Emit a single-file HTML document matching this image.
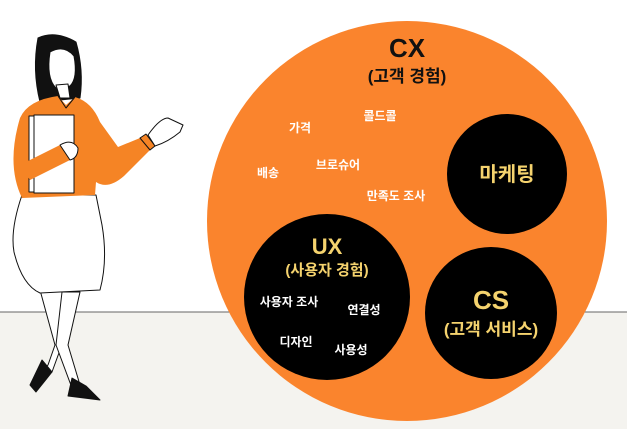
<!DOCTYPE html>
<html><head><meta charset="utf-8"><style>
html,body{margin:0;padding:0;width:627px;height:429px;overflow:hidden;background:#fff}
</style></head><body>
<svg width="627" height="429" viewBox="0 0 627 429" xmlns="http://www.w3.org/2000/svg" font-family="'Liberation Sans','Noto Sans CJK KR',sans-serif" font-weight="bold" text-anchor="middle">
<rect x="0" y="312" width="627" height="117" fill="#f4f3ef"/>
<line x1="0" y1="312" x2="627" y2="312" stroke="#666" stroke-width="1"/>
<!-- person -->
<g stroke="#111" stroke-width="1" stroke-linejoin="round">
<path d="M40,290 L55,345 L48,365 L40,372 L52,372 L60,350 L72,292 Z" fill="#fff"/>
<path d="M62,292 L80,292 L68,345 L80,385 L72,388 L56,345 Z" fill="#fff"/>
<path d="M42,360 L30,385 L36,392 L52,372 Z" fill="#111"/>
<path d="M72,378 L68,396 L100,400 L86,386 Z" fill="#111"/>
<path d="M22,195 Q10,230 14,252 Q22,285 40,293 L100,290 Q108,260 102,225 L96,195 Z" fill="#fff"/>
<path d="M38,38 Q55,30 76,42 Q84,70 80,98 L40,102 Q32,70 38,38 Z" fill="#111"/>
<path d="M50,52 Q64,44 74,56 Q78,78 70,86 L56,88 Q46,78 50,52 Z" fill="#fff"/>
<path d="M56,85 L60,98 L70,98 L68,84 Z" fill="#fff"/>
<path d="M20,118 Q28,100 58,96 L66,105 L75,97 Q92,102 100,122 L118,147 L140,138 L150,150 L124,176 Q108,190 96,182 L95,195 L22,198 Q6,165 20,118 Z" fill="#f58425" stroke="none"/>
<path d="M58,96 L66,108 L75,97" fill="none"/>
<path d="M140,138 L150,150 L155,146 L146,134 Z" fill="#f58425"/>
<path d="M148,135 Q160,118 168,118 L183,125 L180,132 Q168,142 155,146 Z" fill="#fff"/>
<rect x="29" y="116" width="40" height="76" fill="#fff"/>
<rect x="34" y="115" width="40" height="78" fill="#fff"/>
<path d="M20,165 L60,145 L70,160 L30,180 Z" fill="#f58425" stroke="none"/>
<path d="M60,145 Q72,138 78,148 Q78,158 70,160 Z" fill="#fff"/>
</g>
<!-- diagram -->
<circle cx="407" cy="221" r="200" fill="#fa842d"/>
<circle cx="507" cy="174" r="60" fill="#000"/>
<circle cx="327" cy="297" r="83" fill="#000"/>
<circle cx="491" cy="313" r="66" fill="#000"/>
<text x="407" y="57" font-size="26" fill="#111">CX</text>
<text x="407" y="82" font-size="17" fill="#111">(고객 경험)</text>
<g fill="#fff" font-size="12">
<text x="300" y="132">가격</text>
<text x="380" y="120">콜드콜</text>
<text x="268" y="177">배송</text>
<text x="338" y="169">브로슈어</text>
<text x="396" y="200">만족도 조사</text>
<text x="289" y="306">사용자 조사</text>
<text x="364" y="314">연결성</text>
<text x="296" y="346">디자인</text>
<text x="351" y="354">사용성</text>
</g>
<g fill="#f5d36e">
<text x="507" y="181" font-size="20">마케팅</text>
<text x="327" y="254" font-size="22">UX</text>
<text x="327" y="275" font-size="15">(사용자 경험)</text>
<text x="491" y="309" font-size="26">CS</text>
<text x="491" y="335" font-size="17">(고객 서비스)</text>
</g>
</svg>
</body></html>
